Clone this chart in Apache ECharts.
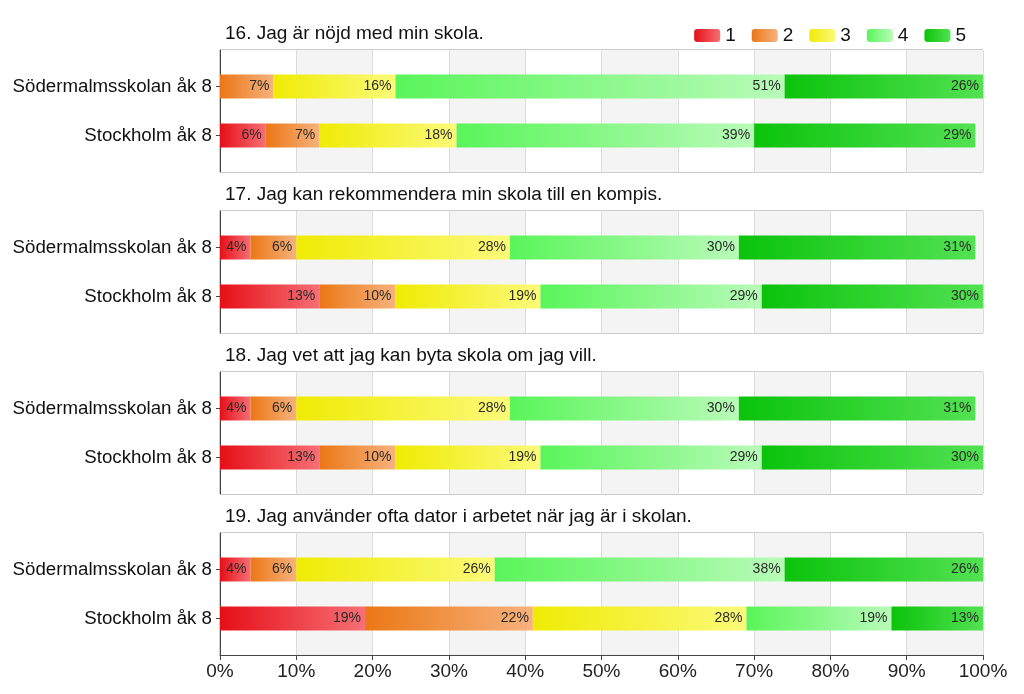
<!DOCTYPE html>
<html>
<head>
<meta charset="utf-8">
<script src="https://cdn.jsdelivr.net/npm/echarts@6/dist/echarts.min.js"></script>
<style>html,body{margin:0;padding:0;background:#fff}#c{width:1024px;height:694px}</style>
</head>
<body>
<div id="c"></div>
<script>
const titles = [
  '16. Jag är nöjd med min skola.',
  '17. Jag kan rekommendera min skola till en kompis.',
  '18. Jag vet att jag kan byta skola om jag vill.',
  '19. Jag använder ofta dator i arbetet när jag är i skolan.'
];
const categories = ['Södermalmsskolan åk 8', 'Stockholm åk 8'];
const levelNames = ['1', '2', '3', '4', '5'];
// each entry: [Södermalmsskolan, Stockholm] per question
const level1 = [[0, 6], [4, 13], [4, 13], [4, 19]];
const level2 = [[7, 7], [6, 10], [6, 10], [6, 22]];
const level3 = [[16, 18], [28, 19], [28, 19], [26, 28]];
const level4 = [[51, 39], [30, 29], [30, 29], [38, 19]];
const level5 = [[26, 29], [31, 30], [31, 30], [26, 13]];
const xTicks = ['0%', '10%', '20%', '30%', '40%', '50%', '60%', '70%', '80%', '90%', '100%'];

const levels = [level1, level2, level3, level4, level5];
const colorPairs = [
  ['#e60f18', '#f66f74'],
  ['#eb7716', '#f7b27c'],
  ['#efeb05', '#fbfa78'],
  ['#5af55a', '#b8fbb8'],
  ['#0bc30b', '#52e252']
];
function grad(p) {
  return new echarts.graphic.LinearGradient(0, 0, 1, 0, [
    { offset: 0, color: p[0] }, { offset: 1, color: p[1] }
  ]);
}

const FONT = '"Liberation Sans", Arial, sans-serif';
const L = 220, R = 41;
const panelTop = [50, 211, 372, 533];
const panelH = 122;

const grid = [], xAxis = [], yAxis = [], series = [], title = [];
panelTop.forEach((top, i) => {
  const last = i === panelTop.length - 1;
  grid.push({ left: L, right: R, top: top, height: panelH, show: true, borderColor: '#9a9a9a', borderWidth: 1, backgroundColor: 'transparent' });
  grid.push({ left: L, right: R, top: top + 12, height: panelH - 24 });
  xAxis.push({
    gridIndex: 2 * i, type: 'value', min: 0, max: 100, interval: 10,
    axisLine: { show: last, lineStyle: { color: '#444' } },
    axisTick: { show: last, length: 5, lineStyle: { color: '#444' } },
    axisLabel: { show: last, fontFamily: FONT, fontSize: 19, color: '#222', margin: 7,
      formatter: (v) => xTicks[Math.round(v / 10)] },
    splitLine: { show: true, lineStyle: { color: '#dcdcdc' } },
    splitArea: { show: true, areaStyle: { color: ['#ffffff', '#f4f4f4'] } }
  });
  xAxis.push({
    gridIndex: 2 * i + 1, type: 'value', min: 0, max: 100, interval: 10, show: false,
    splitLine: { show: false }
  });
  yAxis.push({
    gridIndex: 2 * i, type: 'value', min: 0, max: 1,
    axisLine: { show: true, lineStyle: { color: '#444' } },
    axisTick: { show: false }, axisLabel: { show: false }, splitLine: { show: false }
  });
  yAxis.push({
    gridIndex: 2 * i + 1, type: 'category', data: categories, inverse: true,
    axisLine: { show: false },
    axisTick: { show: true, alignWithLabel: true, length: 4, lineStyle: { color: '#444' } },
    axisLabel: { fontFamily: FONT, fontSize: 18.7, color: '#111', margin: 8 },
    splitLine: { show: false }
  });
  title.push({
    text: titles[i], left: 220, top: top - 31,
    textStyle: { fontFamily: FONT, fontSize: 19, fontWeight: 'normal', color: '#111' }
  });
  levels.forEach((lv, k) => {
    series.push({
      name: levelNames[k], type: 'bar', stack: 'p' + i,
      xAxisIndex: 2 * i + 1, yAxisIndex: 2 * i + 1,
      barWidth: 24, data: lv[i],
      itemStyle: { color: grad(colorPairs[k]) },
      label: {
        show: true, position: 'insideRight', distance: 4,
        fontFamily: FONT, fontSize: 14, color: '#2a2a2a',
        formatter: (p) => p.value > 0 ? p.value + '%' : ''
      },
      emphasis: { disabled: true },
      animation: false
    });
  });
});

const chart = echarts.init(document.getElementById('c'), null, { renderer: 'canvas' });
chart.setOption({
  backgroundColor: '#ffffff',
  animation: false,
  title: title,
  legend: {
    data: levelNames.map((n, k) => ({ name: n, itemStyle: { color: grad(colorPairs[k]) } })),
    right: 53, top: 21, itemWidth: 26, itemHeight: 13, itemGap: 16,
    textStyle: { fontFamily: FONT, fontSize: 19, color: '#111' },
    selectedMode: false
  },
  grid: grid, xAxis: xAxis, yAxis: yAxis, series: series
});
</script>
</body>
</html>
